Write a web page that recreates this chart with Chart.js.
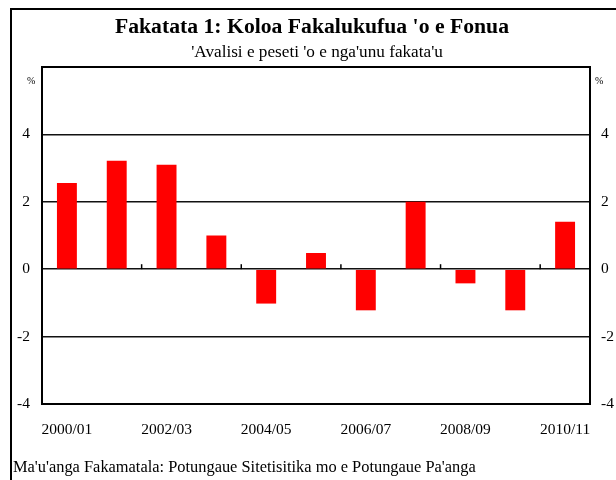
<!DOCTYPE html>
<html>
<head>
<meta charset="utf-8">
<script src="https://cdn.jsdelivr.net/npm/chart.js@4/dist/chart.umd.min.js"></script>
<style>
    html, body { margin: 0; padding: 0; background: #fff; overflow: hidden; }
    body { width: 616px; height: 480px; position: relative; font-family: "Liberation Serif", "Times New Roman", serif; color: #000; }
    #frame { position: absolute; left: 10px; top: 8px; width: 700px; height: 600px; border-top: 2px solid #000; border-left: 2px solid #000; }
    #title { position: absolute; left: 0; width: 624px; top: 14px; text-align: center; font-size: 21.7px; font-weight: bold; }
    #subtitle { position: absolute; left: 0; width: 634px; top: 42px; text-align: center; font-size: 17.2px; }
    .pct { position: absolute; top: 75px; font-size: 10px; }
    #source { position: absolute; left: 13px; top: 457px; font-size: 16.4px; white-space: nowrap; }
    #chart { position: absolute; left: 0; top: 0; }
</style>
</head>
<body>
<div id="frame"></div>
<canvas id="chart" width="616" height="480"></canvas>
<div id="title">Fakatata 1: Koloa Fakalukufua 'o e Fonua</div>
<div id="subtitle">'Avalisi e peseti 'o e nga'unu fakata'u</div>
<div class="pct" style="left:27px">%</div>
<div class="pct" style="left:595px">%</div>
<div id="source">Ma'u'anga Fakamatala: Potungaue Sitetisitika mo e Potungaue Pa'anga</div>
<script>
const years = ["2000/01", "2001/02", "2002/03", "2003/04", "2004/05", "2005/06", "2006/07", "2007/08", "2008/09", "2009/10", "2010/11"];
const growth = [2.56, 3.22, 3.1, 1.0, -1.02, 0.48, -1.22, 2.0, -0.42, -1.22, 1.41];
const yTicks = [-4, -2, 0, 2, 4];

const serif = "'Liberation Serif', 'Times New Roman', serif";

// frame round the plot and little ticks on the zero line between every second year
const plotFrame = {
    id: "plotFrame",
    afterDraw(chart) {
        const { ctx, chartArea: a, scales } = chart;
        ctx.save();
        ctx.strokeStyle = "#000";
        ctx.lineWidth = 1.5;
        const zero = scales.y.getPixelForValue(0);
        for (let i = 1; i < years.length - 1; i += 2) {
            const x = (scales.x.getPixelForValue(i) + scales.x.getPixelForValue(i + 1)) / 2;
            ctx.beginPath();
            ctx.moveTo(x, zero);
            ctx.lineTo(x, zero - 5);
            ctx.stroke();
        }
        ctx.lineWidth = 2;
        ctx.strokeRect(a.left, a.top, a.right - a.left, a.bottom - a.top);
        ctx.restore();
    }
};

new Chart(document.getElementById("chart"), {
    type: "bar",
    data: { labels: years, datasets: [{ data: growth, backgroundColor: "#ff0000", barPercentage: 0.4, categoryPercentage: 1 }] },
    options: {
        responsive: false,
        animation: false,
        maintainAspectRatio: false,
        layout: { padding: { left: 10, right: 0, top: 67, bottom: 36 } },
        plugins: { legend: { display: false }, tooltip: { enabled: false } },
        scales: {
            x: {
                grid: { display: false, drawTicks: false },
                border: { display: false },
                ticks: { autoSkip: false, maxRotation: 0, padding: 17, color: "#000", font: { family: serif, size: 15.5 }, callback: (v, i) => (i % 2 === 0 ? years[i] : "") },
                afterFit: (s) => { s.height = 40; }
            },
            y: {
                position: "left", min: -4, max: 6,
                afterBuildTicks: (s) => { s.ticks = yTicks.concat([6]).map((v) => ({ value: v })); },
                grid: { color: (c) => (c.tick.value === 6 || c.tick.value === -4 ? "transparent" : "#111"), lineWidth: 1.5, drawTicks: false },
                border: { display: false },
                ticks: { padding: 12, color: "#000", font: { family: serif, size: 15.5 }, callback: (v) => (v === 6 ? "" : v) },
                afterFit: (s) => { s.width = 32; }
            },
            y2: {
                position: "right", min: -4, max: 6,
                afterBuildTicks: (s) => { s.ticks = yTicks.map((v) => ({ value: v })); },
                grid: { display: false, drawTicks: false },
                border: { display: false },
                ticks: { padding: 11, color: "#000", font: { family: serif, size: 15.5 } },
                afterFit: (s) => { s.width = 26; }
            }
        }
    },
    plugins: [plotFrame]
});
</script>
</body>
</html>
